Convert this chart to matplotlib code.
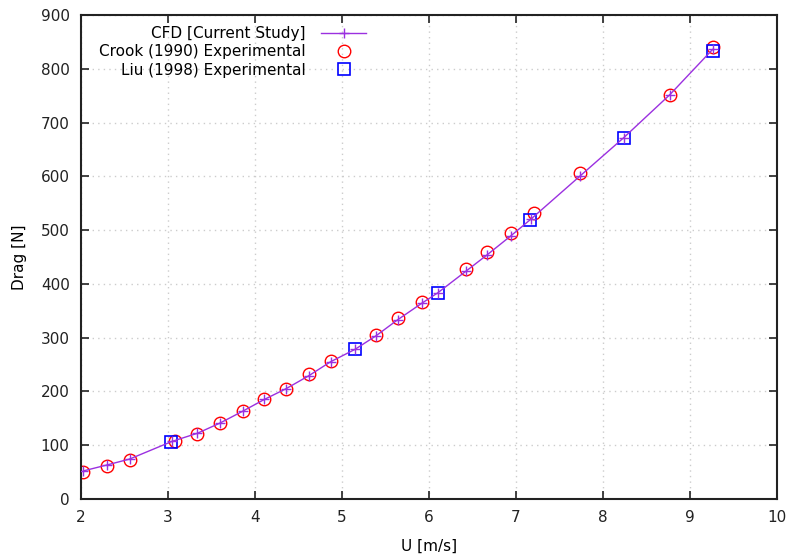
import matplotlib
matplotlib.use('Agg')
import matplotlib.pyplot as plt

# CFD results (current study)
cfd_u = [2.03, 2.30, 2.56, 3.05, 3.34, 3.60, 3.86, 4.11, 4.36, 4.62, 4.87, 5.15,
         5.39, 5.64, 5.92, 6.10, 6.43, 6.67, 6.94, 7.17, 7.74, 8.24, 8.77, 9.26]
cfd_drag = [52, 63, 74, 107, 122, 141, 163, 185, 205, 229, 255, 278,
            303, 333, 364, 383, 424, 454, 489, 520, 601, 672, 752, 836]

# Crook (1990) experimental
crook_u = [2.03, 2.30, 2.56, 3.08, 3.34, 3.60, 3.86, 4.11, 4.36, 4.62, 4.87,
           5.39, 5.64, 5.92, 6.43, 6.67, 6.94, 7.21, 7.74, 8.77, 9.26]
crook_drag = [50, 61, 73, 108, 120, 141, 164, 186, 205, 232, 257,
              305, 337, 366, 427, 460, 495, 532, 607, 751, 841]

# Liu (1998) experimental
liu_u = [3.04, 5.15, 6.10, 7.16, 8.24, 9.26]
liu_drag = [106, 278, 383, 518, 672, 834]

fig, ax = plt.subplots(figsize=(7.92, 5.58), dpi=100)
plt.subplots_adjust(left=0.102, right=0.981, top=0.973, bottom=0.106)

ax.plot(cfd_u, cfd_drag, '-', color='#9b30e0', marker='+', markersize=7,
        linewidth=1, label='CFD [Current Study]', zorder=3)
ax.plot(crook_u, crook_drag, 'o', color='red', markerfacecolor='none',
        markersize=9, markeredgewidth=1, label='Crook (1990) Experimental', zorder=2)
ax.plot(liu_u, liu_drag, 's', color='blue', markerfacecolor='none',
        markersize=8, markeredgewidth=1.2, label='Liu (1998) Experimental', zorder=2)

ax.set_xlim(2, 10)
ax.set_ylim(0, 900)
ax.set_xticks(range(2, 11))
ax.set_yticks(range(0, 901, 100))
ax.tick_params(direction='in', top=True, right=True, length=6, width=1.2,
               labelsize=11, colors='#222222', pad=8)
for s in ax.spines.values():
    s.set_linewidth(1.5)
    s.set_color('#222222')
ax.grid(True, linestyle=(0, (1, 3)), color='#cccccc', linewidth=1)

ax.set_xlabel('U [m/s]', fontsize=11, labelpad=10)
ax.set_ylabel('Drag [N]', fontsize=11, labelpad=10)

ax.legend(loc='upper left', bbox_to_anchor=(0.006, 1.005), frameon=False,
          markerfirst=False, handlelength=3, fontsize=11, labelspacing=0.2,
          handletextpad=1.0)

plt.savefig('out.png', dpi=100)
